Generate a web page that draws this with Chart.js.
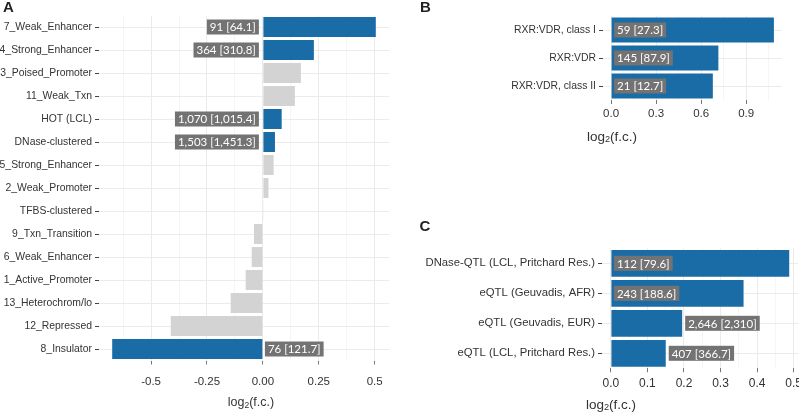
<!DOCTYPE html>
<html>
<head>
<meta charset="utf-8">
<script src="https://cdn.jsdelivr.net/npm/chart.js@4/dist/chart.umd.min.js"></script>
<style>
  html, body { margin: 0; padding: 0; background: #fff; }
  #wrap { position: relative; width: 799px; height: 412px; overflow: hidden; }
  canvas { position: absolute; }
</style>
</head>
<body>
<div id="wrap">
  <canvas id="a" width="400" height="412" style="left:0;top:0;width:400px;height:412px"></canvas>
  <canvas id="b" width="399" height="150" style="left:400px;top:0;width:399px;height:150px"></canvas>
  <canvas id="c" width="399" height="207" style="left:400px;top:205px;width:399px;height:207px"></canvas>
</div>
<script>
// panel A - chromatin states
const catsA = ['7_Weak_Enhancer', '4_Strong_Enhancer', '3_Poised_Promoter', '11_Weak_Txn', 'HOT (LCL)',
  'DNase-clustered', '5_Strong_Enhancer', '2_Weak_Promoter', 'TFBS-clustered', '9_Txn_Transition',
  '6_Weak_Enhancer', '1_Active_Promoter', '13_Heterochrom/lo', '12_Repressed', '8_Insulator'];
const valsA = [0.505, 0.228, 0.170, 0.143, 0.084, 0.054, 0.048, 0.025, 0.003, -0.040, -0.050, -0.077, -0.144, -0.412, -0.674];
const sigA = [1, 1, 0, 0, 1, 1, 0, 0, 0, 0, 0, 0, 0, 0, 1];
const countsA = ['91 [64.1]', '364 [310.8]', '', '', '1,070 [1,015.4]', '1,503 [1,451.3]', '', '', '', '', '', '', '', '', '76 [121.7]'];
const ticksA = [-0.5, -0.25, 0, 0.25, 0.5];
const tickTextA = ['-0.5', '-0.25', '0.00', '0.25', '0.5'];
const minorA = [-0.625, -0.375, -0.125, 0.125, 0.375];

// panel B - RXR:VDR motifs
const catsB = ['RXR:VDR, class I', 'RXR:VDR', 'RXR:VDR, class II'];
const valsB = [1.085, 0.715, 0.678];
const countsB = ['59 [27.3]', '145 [87.9]', '21 [12.7]'];
const ticksB = [0, 0.3, 0.6, 0.9];
const tickTextB = ['0.0', '0.3', '0.6', '0.9'];
const minorB = [0.15, 0.45, 0.75, 1.05];

// panel C - QTLs
const catsC = ['DNase-QTL (LCL, Pritchard Res.)', 'eQTL (Geuvadis, AFR)', 'eQTL (Geuvadis, EUR)', 'eQTL (LCL, Pritchard Res.)'];
const valsC = [0.488, 0.363, 0.195, 0.150];
const countsC = ['112 [79.6]', '243 [188.6]', '2,646 [2,310]', '407 [366.7]'];
const ticksC = [0, 0.1, 0.2, 0.3, 0.4, 0.5];
const tickTextC = ['0.0', '0.1', '0.2', '0.3', '0.4', '0.5'];
const minorC = [0.05, 0.15, 0.25, 0.35, 0.45];

const BLUE = '#1a6ca7';
const GREY = '#d3d3d3';
const GRID = '#ebebeb';
const TEXT = '#333';
const SANS = '"Liberation Sans", Arial, sans-serif';

// count boxes + axis title + panel letter
const decor = {
  id: 'decor',
  afterDatasetsDraw(chart, args, o) {
    const ctx = chart.ctx;
    const xs = chart.scales.x, ys = chart.scales.y;
    const zero = xs.getPixelForValue(0);
    ctx.save();
    ctx.font = '11.5px Lato, "Open Sans", sans-serif';
    ctx.textBaseline = 'middle';
    o.counts.forEach((t, i) => {
      if (!t) return;
      const v = o.vals[i];
      const w = ctx.measureText(t).width + 6;
      const yc = ys.getPixelForValue(i);
      const end = xs.getPixelForValue(v);
      let x0;
      if (o.mode === 'opposite') {
        x0 = v > 0 ? zero - 4 - w : zero + 2;
      } else {
        x0 = (end - zero) >= w + 3 ? zero + 3 : end + 3;
      }
      ctx.fillStyle = '#737373';
      ctx.fillRect(x0, yc - 7.5, w, 15);
      ctx.fillStyle = '#fff';
      ctx.textAlign = 'left';
      ctx.fillText(t, x0 + 3, yc + 0.5);
    });
    ctx.restore();
  },
  afterDraw(chart, args, o) {
    const ctx = chart.ctx;
    ctx.save();
    ctx.fillStyle = '#222';
    ctx.font = 'bold 15px ' + SANS;
    ctx.textAlign = 'center';
    ctx.textBaseline = 'middle';
    ctx.fillText(o.letter, o.lx, o.ly);
    // log2(f.c.)
    const s = o.ts;
    ctx.fillStyle = TEXT;
    ctx.textBaseline = 'alphabetic';
    ctx.textAlign = 'left';
    const big = s + 'px ' + SANS, small = (s * 0.68) + 'px ' + SANS;
    ctx.font = big;
    const w1 = ctx.measureText('log').width, w3 = ctx.measureText('(f.c.)').width;
    ctx.font = small;
    const w2 = ctx.measureText('2').width;
    let x = o.tx - (w1 + w2 + w3) / 2;
    const base = o.ty + s * 0.35;
    ctx.font = big; ctx.fillText('log', x, base); x += w1;
    ctx.font = small; ctx.fillText('2', x, base + s * 0.12); x += w2;
    ctx.font = big; ctx.fillText('(f.c.)', x, base);
    ctx.restore();
  }
};

function panel(id, p) {
  const el = document.getElementById(id);
  const W = el.width, H = el.height;
  const majors = new Map(p.ticks.map((v, i) => [v, p.tickText[i]]));
  const all = p.ticks.concat(p.minor).sort((a, b) => a - b);
  const isMinor = (v) => !majors.has(v);
  return new Chart(el, {
    type: 'bar',
    data: {
      labels: p.cats,
      datasets: [{
        data: p.vals,
        backgroundColor: p.colors,
        borderWidth: 0,
        barPercentage: p.barPct,
        categoryPercentage: 1
      }]
    },
    options: {
      indexAxis: 'y',
      responsive: false,
      animation: false,
      devicePixelRatio: 1,
      layout: { padding: { left: 0, right: W - p.area.right, top: p.area.top, bottom: 0 } },
      plugins: {
        legend: { display: false },
        tooltip: { enabled: false },
        decor: { counts: p.counts, vals: p.vals, mode: p.mode, letter: p.letter, lx: p.lx, ly: p.ly, tx: p.tx, ty: p.ty, ts: p.ts }
      },
      scales: {
        x: {
          type: 'linear',
          min: p.min, max: p.max,
          border: { display: false },
          afterBuildTicks: (s) => { s.ticks = all.map(v => ({ value: v })); },
          afterFit: (s) => { s.height = H - p.area.bottom; s.paddingLeft = 0; s.paddingRight = 0; },
          grid: {
            color: GRID,
            lineWidth: (c) => (c.tick && isMinor(c.tick.value)) ? 0.5 : 1,
            tickLength: 4,
            tickColor: (c) => (c.tick && isMinor(c.tick.value)) ? 'rgba(0,0,0,0)' : '#777',
            tickWidth: 1
          },
          ticks: {
            autoSkip: false, maxRotation: 0,
            padding: p.xPad,
            color: TEXT,
            font: { family: SANS, size: p.xFont },
            callback: (v) => majors.has(v) ? majors.get(v) : ''
          }
        },
        y: {
          border: { display: false },
          afterFit: (s) => { s.width = p.area.left; s.paddingTop = 0; s.paddingBottom = 0; },
          grid: { color: GRID, offset: false, tickLength: 4, tickColor: '#444', tickWidth: 1 },
          ticks: { padding: 3, color: TEXT, font: { family: SANS, size: p.yFont } }
        }
      }
    },
    plugins: [decor]
  });
}

panel('a', {
  cats: catsA, vals: valsA, counts: countsA,
  colors: sigA.map(s => s ? BLUE : GREY),
  ticks: ticksA, tickText: tickTextA, minor: minorA,
  min: -0.733, max: 0.564,
  area: { left: 99, right: 389, top: 15.5, bottom: 360.5 },
  barPct: 0.88, xPad: 10, xFont: 11.5, yFont: 10.4, mode: 'opposite',
  letter: 'A', lx: 8.5, ly: 8, tx: 251, ty: 402, ts: 12.5
});

panel('b', {
  cats: catsB, vals: valsB, counts: countsB,
  colors: catsB.map(() => BLUE),
  ticks: ticksB, tickText: tickTextB, minor: minorB,
  min: -0.054, max: 1.139,
  area: { left: 203, right: 382, top: 16, bottom: 100 },
  barPct: 0.9, xPad: 2.5, xFont: 11.5, yFont: 10.4, mode: 'inside',
  letter: 'B', lx: 25.5, ly: 8, tx: 212, ty: 136, ts: 13.5
});

panel('c', {
  cats: catsC, vals: valsC, counts: countsC,
  colors: catsC.map(() => BLUE),
  ticks: ticksC, tickText: tickTextC, minor: minorC,
  min: -0.0244, max: 0.512,
  area: { left: 202, right: 398, top: 43.3, bottom: 163.3 },
  barPct: 0.89, xPad: 4, xFont: 12, yFont: 11.3, mode: 'inside',
  letter: 'C', lx: 25, ly: 21.7, tx: 211, ty: 199, ts: 13.5
});
</script>
</body>
</html>
